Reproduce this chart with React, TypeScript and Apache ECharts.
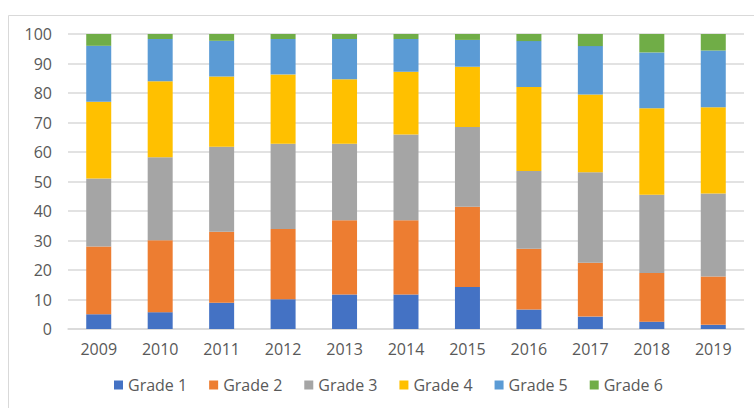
import React, { useEffect, useRef } from "react";
import * as echarts from "echarts";

const years = ["2009", "2010", "2011", "2012", "2013", "2014", "2015", "2016", "2017", "2018", "2019"];
const seriesNames = ["Grade 1", "Grade 2", "Grade 3", "Grade 4", "Grade 5", "Grade 6"];
const grade1 = [5.0, 5.7, 8.9, 10.1, 11.7, 11.7, 14.2, 6.6, 4.2, 2.5, 1.4];
const grade2 = [23.0, 24.4, 24.1, 23.8, 25.2, 25.2, 27.2, 20.6, 18.3, 16.5, 16.4];
const grade3 = [23.0, 28.1, 28.8, 28.9, 25.9, 29.0, 27.1, 26.4, 30.6, 26.5, 28.1];
const grade4 = [26.0, 25.8, 23.8, 23.5, 21.9, 21.3, 20.4, 28.4, 26.4, 29.3, 29.3];
const grade5 = [19.0, 14.3, 12.1, 12.0, 13.6, 11.1, 9.1, 15.6, 16.4, 18.95, 19.2];
const grade6 = [4.0, 1.7, 2.3, 1.7, 1.7, 1.7, 2.0, 2.4, 4.1, 6.25, 5.6];
const colors = ["#4472C4", "#ED7D31", "#A5A5A5", "#FFC000", "#5B9BD5", "#70AD47"];

export default function App() {
  const ref = useRef<HTMLDivElement>(null);
  useEffect(() => {
    if (!ref.current) return;
    const chart = echarts.init(ref.current, undefined, { renderer: "svg" });
    const data = [grade1, grade2, grade3, grade4, grade5, grade6];
    const font = "'Open Sans', sans-serif";
    chart.setOption({
      animation: false,
      color: colors,
      graphic: [
        {
          type: "rect",
          shape: { x: 8.5, y: 15.5, width: 800, height: 500 },
          style: { fill: "none", stroke: "#d9d9d9", lineWidth: 1 },
          silent: true,
        },
      ],
      grid: { left: 68, right: 10, top: 34, bottom: 79 },
      legend: {
        data: seriesNames,
        top: 377,
        left: 114,
        padding: 0,
        icon: "rect",
        itemWidth: 9,
        itemHeight: 9,
        itemGap: 22,
        textStyle: { color: "#595959", fontSize: 16, fontFamily: font },
      },
      xAxis: {
        type: "category",
        data: years,
        axisLine: { lineStyle: { color: "#d9d9d9", width: 1.5 } },
        axisTick: { show: false },
        axisLabel: { color: "#595959", fontSize: 16, fontFamily: font, margin: 12 },
      },
      yAxis: {
        type: "value",
        min: 0,
        max: 100,
        interval: 10,
        axisLine: { show: false },
        axisTick: { show: false },
        splitLine: { lineStyle: { color: "#d9d9d9", width: 1.5 } },
        axisLabel: { color: "#595959", fontSize: 16, fontFamily: font, margin: 16 },
      },
      series: seriesNames.map((name, i) => ({
        name,
        type: "bar",
        stack: "total",
        barWidth: 25,
        data: data[i],
        itemStyle: { color: colors[i] },
      })),
    });
    return () => chart.dispose();
  }, []);
  return <div ref={ref} style={{ width: 754, height: 408, position: "absolute", left: 0, top: 0 }} />;
}
